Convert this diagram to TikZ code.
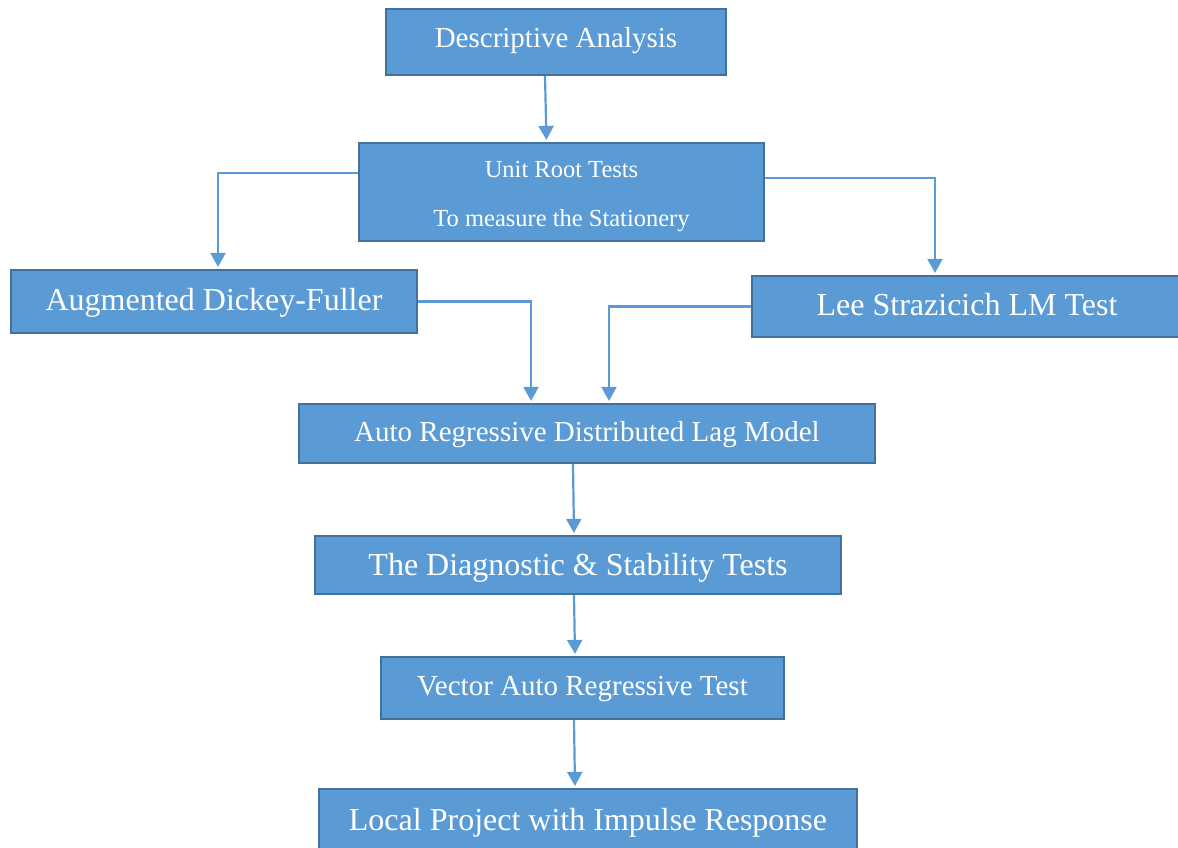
\documentclass[tikz,border=0pt]{standalone}
\usepackage{fontspec}
\setmainfont{Liberation Serif}
\usepackage{xcolor}
\definecolor{boxfill}{RGB}{91,155,213}
\definecolor{boxline}{RGB}{65,113,156}
\usepackage{tikz}
\usetikzlibrary{arrows.meta, calc}

\begin{document}
\begin{tikzpicture}[x=1pt, y=-1pt,
    stepbox/.style={draw=boxline, line width=2.2pt, fill=boxfill, text=white, inner sep=0pt},
    big/.style={font=\fontsize{32}{38}\selectfont},
    mid/.style={font=\fontsize{29}{34}\selectfont},
    base/.style={text depth=0pt, text height=#1},
    arr/.style={draw=boxfill, line width=2.2pt, -{Triangle[width=15pt,length=14pt]}, shorten >=2pt}]
  \clip (0,0) rectangle (1178,848);
  \fill[white] (0,0) rectangle (1178,848);
  \node[stepbox, mid, base=11pt, minimum width=340pt, minimum height=66pt] (desc) at (556,42) {Descriptive Analysis};
  \node[stepbox, align=center, font=\fontsize{24.5}{49}\selectfont, text height=73.5pt, minimum width=405pt, minimum height=98pt] (unit) at (561.5,192) {Unit Root Tests\\To measure the Stationery};
  \node[stepbox, big, base=17pt, minimum width=406pt, minimum height=63pt] (adf) at (214,301.5) {Augmented Dickey-Fuller};
  \node[stepbox, big, base=17pt, minimum width=430pt, minimum height=61pt] (lee) at (967,306.5) {Lee Strazicich LM Test};
  \node[stepbox, mid, base=15.6pt, minimum width=576pt, minimum height=59pt] (ardl) at (587,433.5) {Auto Regressive Distributed Lag Model};
  \node[stepbox, big, base=21pt, minimum width=526pt, minimum height=58pt] (diag) at (578,565) {The Diagnostic \& Stability Tests};
  \node[stepbox, mid, base=14pt, minimum width=403pt, minimum height=62pt] (var) at (582.5,688) {Vector Auto Regressive Test};
  \node[stepbox, big, base=20pt, minimum width=538pt, minimum height=62pt] (local) at (588,820) {Local Project with Impulse Response};

  \draw[arr] ([xshift=-11pt]desc.south) -- ([xshift=-15pt]unit.north);
  \draw[arr] ([yshift=19pt]unit.west) -| ([xshift=4pt]adf.north);
  \draw[arr] ([yshift=14pt]unit.east) -| ([xshift=-32pt]lee.north);
  \draw[arr] (adf.east) -| ([xshift=-56pt]ardl.north);
  \draw[arr] (lee.west) -| ([xshift=22pt]ardl.north);
  \draw[arr] ([xshift=-14pt]ardl.south) -- ([xshift=-4pt]diag.north);
  \draw[arr] ([xshift=-4pt]diag.south) -- ([xshift=-7.5pt]var.north);
  \draw[arr] ([xshift=-8.5pt]var.south) -- ([xshift=-13pt]local.north);
\end{tikzpicture}
\end{document}
